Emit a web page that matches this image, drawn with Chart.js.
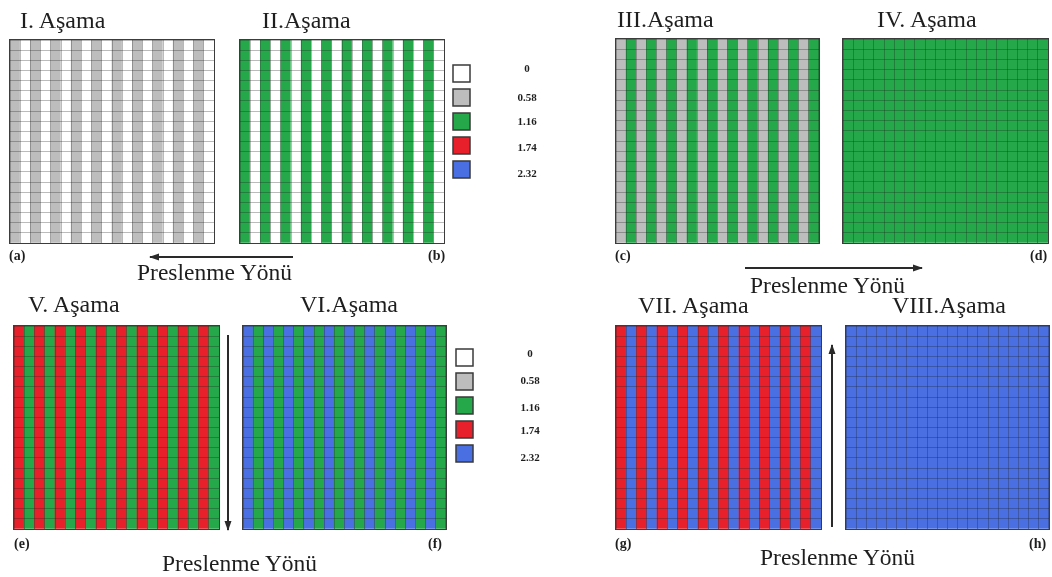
<!DOCTYPE html>
<html>
<head>
<meta charset="utf-8">
<script src="https://cdn.jsdelivr.net/npm/chart.js@4.4.1/dist/chart.umd.min.js"></script>
<style>
  html, body { margin: 0; padding: 0; background: #fff; }
  #page { position: relative; width: 1052px; height: 577px; overflow: hidden; font-family: "Liberation Serif", "DejaVu Serif", serif; }
  .panel { position: absolute; border: 1px solid #3c3c3c; box-sizing: content-box; }
  .panel canvas { display: block; }
  #overlay { position: absolute; left: 0; top: 0; pointer-events: none; }
  #overlay text { font-family: "Liberation Serif", "DejaVu Serif", serif; fill: #1e1e1e; }
  #overlay .title { font-size: 24px; }
  #overlay .dir { font-size: 23.5px; }
  #overlay .tag { font-size: 14px; font-weight: bold; }
  #overlay .lv { font-size: 11px; font-weight: bold; text-anchor: middle; }
</style>
</head>
<body>
<div id="page">
  <div class="panel" id="p-a" style="left:9px;top:39px"><canvas id="c-a" width="204" height="203"></canvas></div>
  <div class="panel" id="p-b" style="left:239px;top:39px"><canvas id="c-b" width="204" height="203"></canvas></div>
  <div class="panel" id="p-c" style="left:615px;top:38px"><canvas id="c-c" width="203" height="204"></canvas></div>
  <div class="panel" id="p-d" style="left:842px;top:38px"><canvas id="c-d" width="205" height="204"></canvas></div>
  <div class="panel" id="p-e" style="left:13px;top:325px"><canvas id="c-e" width="205" height="203"></canvas></div>
  <div class="panel" id="p-f" style="left:242px;top:325px"><canvas id="c-f" width="203" height="203"></canvas></div>
  <div class="panel" id="p-g" style="left:615px;top:325px"><canvas id="c-g" width="205" height="203"></canvas></div>
  <div class="panel" id="p-h" style="left:845px;top:325px"><canvas id="c-h" width="203" height="203"></canvas></div>

  <svg id="overlay" width="1052" height="577">
    <defs>
      <marker id="head" viewBox="0 0 10 10" refX="9" refY="5" markerWidth="5" markerHeight="5" orient="auto">
        <path d="M0,1.5 L10,5 L0,8.5 z" fill="#2a2a2a"></path>
      </marker>
    </defs>

    <text class="title" x="20" y="28">I. Aşama</text>
    <text class="title" x="262" y="28">II.Aşama</text>
    <text class="title" x="617" y="27">III.Aşama</text>
    <text class="title" x="877" y="27">IV. Aşama</text>
    <text class="title" x="28" y="312">V. Aşama</text>
    <text class="title" x="300" y="312">VI.Aşama</text>
    <text class="title" x="638" y="313">VII. Aşama</text>
    <text class="title" x="892" y="313">VIII.Aşama</text>

    <text class="tag" x="9" y="260">(a)</text>
    <text class="tag" x="428" y="260">(b)</text>
    <text class="tag" x="615" y="260">(c)</text>
    <text class="tag" x="1030" y="260">(d)</text>
    <text class="tag" x="14" y="548">(e)</text>
    <text class="tag" x="428" y="548">(f)</text>
    <text class="tag" x="615" y="548">(g)</text>
    <text class="tag" x="1029" y="548">(h)</text>

    <line x1="293" y1="257" x2="150" y2="257" stroke="#2a2a2a" stroke-width="2" marker-end="url(#head)"></line>
    <line x1="745" y1="268" x2="922" y2="268" stroke="#2a2a2a" stroke-width="2" marker-end="url(#head)"></line>
    <line x1="228" y1="335" x2="228" y2="530" stroke="#2a2a2a" stroke-width="2" marker-end="url(#head)"></line>
    <line x1="832" y1="527" x2="832" y2="345" stroke="#2a2a2a" stroke-width="2" marker-end="url(#head)"></line>

    <text class="dir" x="137" y="280">Preslenme Yönü</text>
    <text class="dir" x="750" y="293">Preslenme Yönü</text>
    <text class="dir" x="162" y="571">Preslenme Yönü</text>
    <text class="dir" x="760" y="565">Preslenme Yönü</text>

    <g id="legend1"></g>
    <g id="legend2"></g>
  </svg>
</div>

<script>
// cell value levels shown in the key, and the colour used for each level
const levels      = [0, 0.58, 1.16, 1.74, 2.32];
const levelLabels = ['0', '0.58', '1.16', '1.74', '2.32'];
const levelColors = ['#ffffff', '#bdbdbd', '#24a849', '#e8202b', '#4a6fe3'];

// 20 columns x 20 rows in every stage
const columns  = ['1','2','3','4','5','6','7','8','9','10','11','12','13','14','15','16','17','18','19','20'];
const rowCount = 20;

// value of each column (every row in a column has the same value)
const stageI    = [0.58, 0, 0.58, 0, 0.58, 0, 0.58, 0, 0.58, 0, 0.58, 0, 0.58, 0, 0.58, 0, 0.58, 0, 0.58, 0];
const stageII   = [1.16, 0, 1.16, 0, 1.16, 0, 1.16, 0, 1.16, 0, 1.16, 0, 1.16, 0, 1.16, 0, 1.16, 0, 1.16, 0];
const stageIII  = [0.58, 1.16, 0.58, 1.16, 0.58, 1.16, 0.58, 1.16, 0.58, 1.16, 0.58, 1.16, 0.58, 1.16, 0.58, 1.16, 0.58, 1.16, 0.58, 1.16];
const stageIV   = [1.16, 1.16, 1.16, 1.16, 1.16, 1.16, 1.16, 1.16, 1.16, 1.16, 1.16, 1.16, 1.16, 1.16, 1.16, 1.16, 1.16, 1.16, 1.16, 1.16];
const stageV    = [1.74, 1.16, 1.74, 1.16, 1.74, 1.16, 1.74, 1.16, 1.74, 1.16, 1.74, 1.16, 1.74, 1.16, 1.74, 1.16, 1.74, 1.16, 1.74, 1.16];
const stageVI   = [2.32, 1.16, 2.32, 1.16, 2.32, 1.16, 2.32, 1.16, 2.32, 1.16, 2.32, 1.16, 2.32, 1.16, 2.32, 1.16, 2.32, 1.16, 2.32, 1.16];
const stageVII  = [1.74, 2.32, 1.74, 2.32, 1.74, 2.32, 1.74, 2.32, 1.74, 2.32, 1.74, 2.32, 1.74, 2.32, 1.74, 2.32, 1.74, 2.32, 1.74, 2.32];
const stageVIII = [2.32, 2.32, 2.32, 2.32, 2.32, 2.32, 2.32, 2.32, 2.32, 2.32, 2.32, 2.32, 2.32, 2.32, 2.32, 2.32, 2.32, 2.32, 2.32, 2.32];

const colorOf = v => levelColors[levels.indexOf(v)];

// each column is one full-height bar; the scale grid (z above the bars) cuts it into cells
function drawStage(canvasId, stage) {
  const gridStyle = { z: 1, color: 'rgba(30,30,30,0.3)', lineWidth: 1, drawTicks: false };
  new Chart(document.getElementById(canvasId), {
    type: 'bar',
    data: {
      labels: columns,
      datasets: [{
        data: columns.map(() => rowCount),
        backgroundColor: stage.map(colorOf),
        borderWidth: 0,
        barPercentage: 1,
        categoryPercentage: 1
      }]
    },
    options: {
      responsive: false,
      animation: false,
      events: [],
      layout: { padding: 0 },
      plugins: { legend: { display: false }, tooltip: { enabled: false } },
      scales: {
        x: { offset: true, grid: { ...gridStyle, offset: true }, border: { display: false }, ticks: { display: false } },
        y: { min: 0, max: rowCount, grid: gridStyle, border: { display: false }, ticks: { display: false, stepSize: 1 } }
      }
    }
  });
}

drawStage('c-a', stageI);
drawStage('c-b', stageII);
drawStage('c-c', stageIII);
drawStage('c-d', stageIV);
drawStage('c-e', stageV);
drawStage('c-f', stageVI);
drawStage('c-g', stageVII);
drawStage('c-h', stageVIII);

// colour keys beside stages II and VI
const NS = 'http://www.w3.org/2000/svg';
function drawKey(groupId, x, boxTops, labelX, labelYs) {
  const g = document.getElementById(groupId);
  levels.forEach((v, i) => {
    const r = document.createElementNS(NS, 'rect');
    r.setAttribute('x', x); r.setAttribute('y', boxTops[i]);
    r.setAttribute('width', 17); r.setAttribute('height', 17);
    r.setAttribute('fill', levelColors[i]);
    r.setAttribute('stroke', '#3a3a3a'); r.setAttribute('stroke-width', 1.5);
    g.appendChild(r);
    const t = document.createElementNS(NS, 'text');
    t.setAttribute('class', 'lv');
    t.setAttribute('x', labelX); t.setAttribute('y', labelYs[i]);
    t.textContent = levelLabels[i];
    g.appendChild(t);
  });
}
drawKey('legend1', 453, [65, 89, 113, 137, 161], 527, [72, 101, 125, 151, 177]);
drawKey('legend2', 456, [349, 373, 397, 421, 445], 530, [357, 384, 411, 434, 461]);
</script>
</body>
</html>
